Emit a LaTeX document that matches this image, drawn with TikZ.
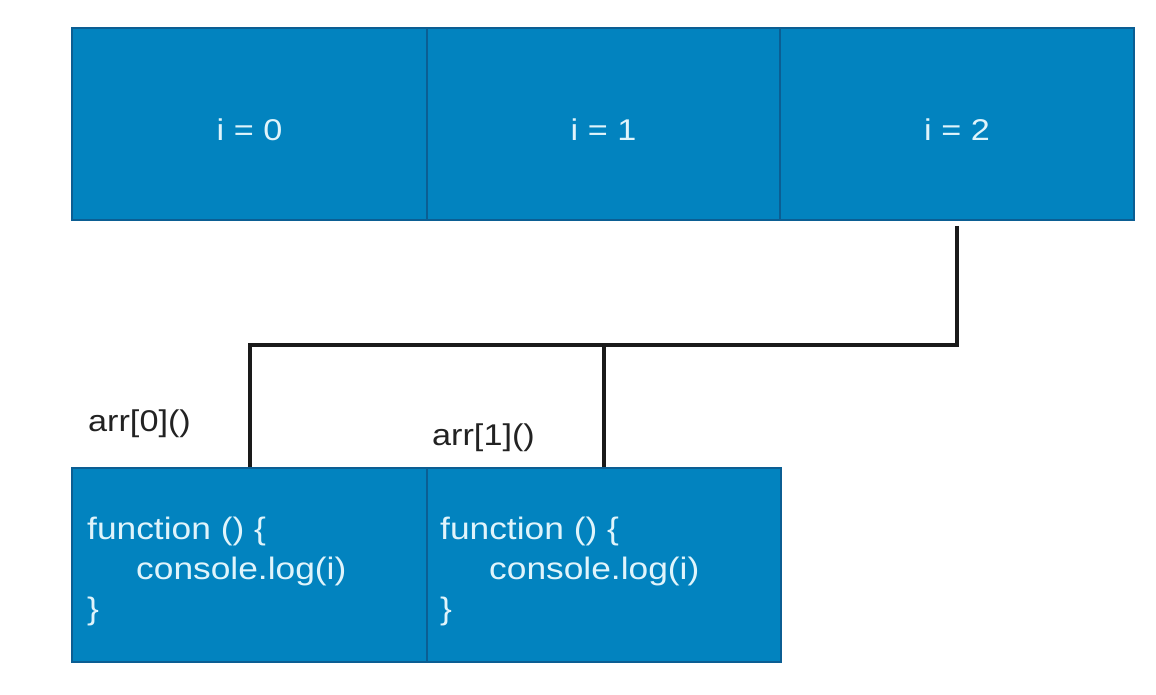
\documentclass[tikz,border=0pt]{standalone}
\usepackage{fontspec}
\setmainfont[FakeStretch=1.14]{Liberation Sans}
\definecolor{cellfill}{HTML}{0283BF}
\definecolor{celledge}{HTML}{0B5E93}
\definecolor{celltext}{HTML}{E0F4FB}
\definecolor{wirec}{HTML}{1A1A1A}
\definecolor{labelc}{HTML}{222222}
\begin{document}
\begin{tikzpicture}[x=1pt,y=-1pt,
  cell/.style={draw=celledge, fill=cellfill, line width=1.5pt, rectangle, inner sep=0pt,
    text=celltext, font=\fontsize{30}{36}\selectfont},
  topcell/.style={cell, minimum height=192pt, text height=33pt, text depth=0pt},
  code/.style={text=celltext, font=\fontsize{31}{40}\selectfont, align=left, inner sep=0pt, anchor=north west},
  lbl/.style={text=labelc, font=\fontsize{30}{36}\selectfont, inner sep=0pt, anchor=west},
  wire/.style={draw=wirec, line width=4pt}]
\useasboundingbox (0,0) rectangle (1156,694);
% top row
\node[topcell, minimum width=355pt] (box0) at (249.5,124) {i = 0};
\node[topcell, minimum width=353pt] (box1) at (603.5,124) {i = 1};
\node[topcell, minimum width=354pt] (box2) at (957,124) {i = 2};
% bottom row
\node[cell, minimum width=355pt, minimum height=194pt] (f0) at (249.5,565) {};
\node[cell, minimum width=354pt, minimum height=194pt] (f1) at (604,565) {};
\node[code] (c0) at (87,517) {function () \{\\\hspace*{49pt}console.log(i)\\\}};
\node[code] (c1) at (440,517) {function () \{\\\hspace*{49pt}console.log(i)\\\}};
% labels
\node[lbl] (l0) at (88,424) {arr[0]()};
\node[lbl] (l1) at (432,438) {arr[1]()};
% connectors
\coordinate (start) at ([yshift=-5pt]box2.south);
\coordinate (bend) at (957,345);
\draw[wire] (start) -- (bend) -| (f0.north);
\draw[wire] (f1.north) -- (f1.north |- bend);
\end{tikzpicture}
\end{document}
